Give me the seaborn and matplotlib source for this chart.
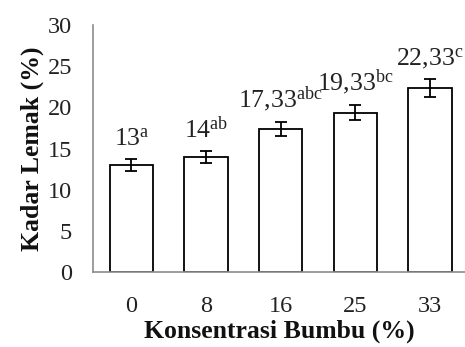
import matplotlib
matplotlib.use("Agg")
import matplotlib.pyplot as plt
import seaborn as sns
import pandas as pd

categories = ["0", "8", "16", "25", "33"]
values = [13, 14, 17.33, 19.33, 22.33]
errors = [0.7, 0.7, 0.85, 0.9, 1.1]
labels = ["13", "14", "17,33", "19,33", "22,33"]
letters = ["a", "ab", "abc", "bc", "c"]
yticks = [0, 5, 10, 15, 20, 25, 30]

sns.set_theme(style="white")
plt.rcParams["font.family"] = ["Liberation Serif", "DejaVu Serif"]
plt.rcParams["mathtext.fontset"] = "custom"
plt.rcParams["mathtext.rm"] = "Liberation Serif"

df = pd.DataFrame({"Konsentrasi": categories, "Lemak": values})

fig = plt.figure(figsize=(4.65, 3.47), dpi=100)
ax = fig.add_axes([0.2, 0.216, 0.8, 0.712])

sns.barplot(data=df, x="Konsentrasi", y="Lemak", color="white",
            edgecolor="black", linewidth=1.3, width=0.58, ax=ax,
            errorbar=None, saturation=1)
ax.errorbar(range(len(values)), values, yerr=errors, fmt="none",
            ecolor="black", elinewidth=1.3, capsize=4, capthick=1.3)

for i, (v, e) in enumerate(zip(values, errors)):
    txt = labels[i].replace(",", "{,}")
    ax.annotate(r"$\mathregular{" + txt + "^{" + letters[i] + "}}$",
                (i, v + e), xytext=(0, 6), textcoords="offset points",
                ha="center", va="bottom", fontsize=18.5, color="#222222")

ax.set_ylim(0, 30)
ax.set_xlim(-0.516, 4.47)
ax.set_yticks(yticks)
ax.set_yticklabels([str(t) for t in yticks])
ax.tick_params(axis="y", length=0, pad=15, labelsize=17.5, labelcolor="#222222")
ax.tick_params(axis="x", length=0, pad=17, labelsize=17.5, labelcolor="#222222")
for s in ["top", "right"]:
    ax.spines[s].set_visible(False)
for s in ["left", "bottom"]:
    ax.spines[s].set_color("#8c8c8c")
    ax.spines[s].set_linewidth(1.2)

ax.set_xlabel("Konsentrasi Bumbu (%)", fontsize=18.5, fontweight="bold", labelpad=2, color="#111111")
ax.set_ylabel("Kadar Lemak (%)", fontsize=18.5, fontweight="bold", labelpad=3, color="#111111")

fig.savefig("out.png", dpi=100, facecolor="white")
